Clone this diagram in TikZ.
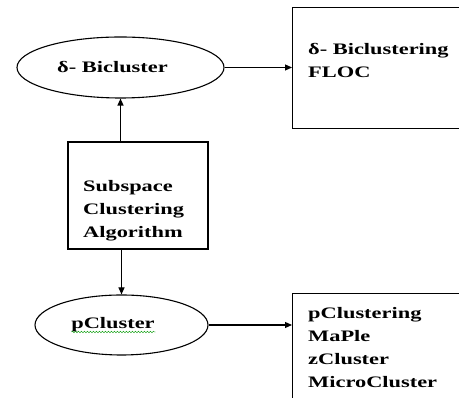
\documentclass[tikz,border=0pt]{standalone}
\usepackage{fontspec}
\setmainfont{Liberation Serif}[FakeStretch=1.4]
\usetikzlibrary{arrows.meta, positioning, shapes.geometric, decorations.pathmorphing}

\begin{document}
\begin{tikzpicture}[
  x=1pt, y=1pt,
  every node/.style={font=\bfseries\fontsize{16}{23}\selectfont},
  oval/.style={ellipse, draw, line width=1.1pt, inner sep=0pt},
  box/.style={rectangle, draw, line width=1.1pt, inner sep=0pt},
  txt/.style={align=left, inner sep=0pt, anchor=base west},
  link/.style={-{Triangle[length=7pt,width=6pt]}, line width=1.1pt},
]
  \useasboundingbox (0,0) rectangle (459,398);
  \clip (0,0) rectangle (459,398);

  % ellipses (text sits a little left of centre)
  \node[oval, minimum width=207, minimum height=61] (bic) at (120.5,330.5) {δ- Bicluster\hspace*{16pt}};
  \node[oval, minimum width=173, minimum height=60] (pcl) at (121.5,73) {pCluster\hspace*{17pt}};

  % boxes
  \node[box, minimum width=140, minimum height=107] (sub) at (138,202.5) {};
  \node[box, minimum width=180, minimum height=121, anchor=north west] (floc) at (292,391) {};
  \node[box, minimum width=180, minimum height=130, anchor=north west] (algs) at (292,105) {};

  % text (base = last line)
  \node[txt] (subtxt) at (83,160) {Subspace\\Clustering\\Algorithm};
  \node[txt] (floctxt) at (308,320) {δ- Biclustering\\FLOC};
  \node[txt] (algstxt) at (308,10) {pClustering\\MaPle\\zCluster\\MicroCluster};

  % arrows
  \draw[link] (bic.south |- sub.north) -- (bic.south);
  \draw[link] (pcl.north |- sub.south) -- (pcl.north);
  \draw[link] (bic.east) -- (bic.east -| floc.west);
  \draw[link] (pcl.east) -- (pcl.east -| algs.west);

  % spell-check squiggle
  \draw[green!60!black, decorate, decoration={snake, amplitude=0.8pt, segment length=3pt}]
    ([xshift=-50,yshift=-7]pcl.center) -- ([xshift=34,yshift=-7]pcl.center);
\end{tikzpicture}
\end{document}
